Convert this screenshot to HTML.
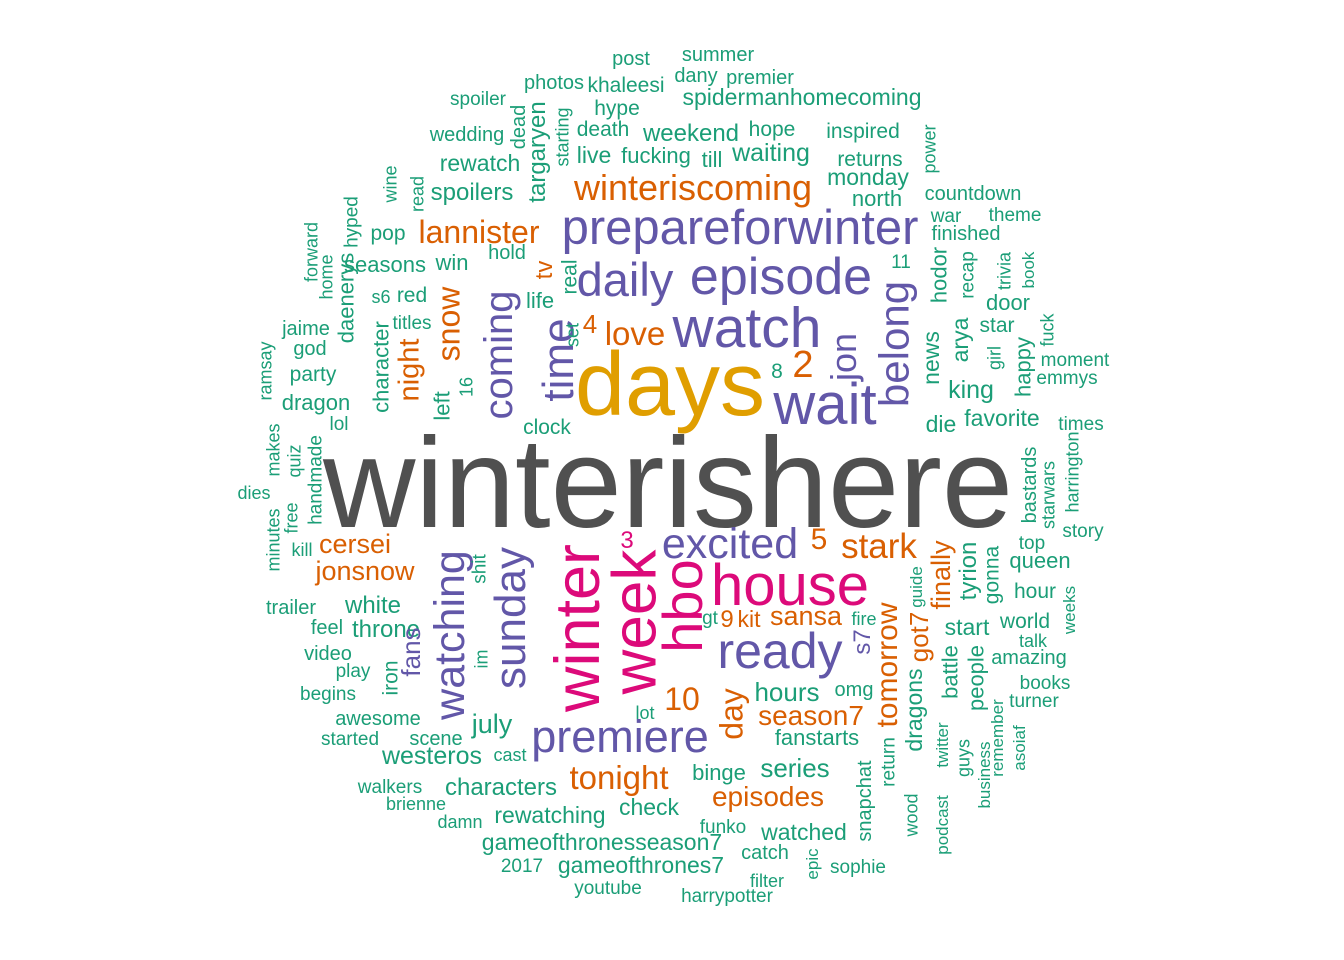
<!DOCTYPE html>
<html><head><meta charset="utf-8"><style>
html,body{margin:0;padding:0;background:#fff;}
svg{display:block;}
text{font-family:"Liberation Sans",Arial,sans-serif;}
</style></head><body>
<svg id="cloud" width="1344" height="960" viewBox="0 0 1344 960" xmlns="http://www.w3.org/2000/svg">
<rect width="1344" height="960" fill="#fff"/>
</svg>
<script>
const palette = {g:'#1b9e77', o:'#d95f02', p:'#6257a8', k:'#dc0a7a', y:'#e09e00', d:'#505050'};
// [word, fontSize, colorKey, centerX, baselineY (horizontal) or centerY (vertical), vertical]
const words = [
["post",20,"g",631,65,0],["summer",20,"g",718,61,0],["dany",20,"g",696,82,0],["premier",20,"g",760,84,0],
["photos",20,"g",554,89,0],["khaleesi",21,"g",626,92,0],["spoiler",19,"g",478,105,0],["hype",21,"g",617,115,0],
["spidermanhomecoming",23,"g",802,105,0],["dead",20,"g",519,127,1],["targaryen",24,"g",538,152,1],["starting",18,"g",563,137,1],
["wedding",20,"g",467,141,0],["death",21,"g",603,136,0],["weekend",24,"g",691,141,0],["hope",21,"g",772,136,0],
["inspired",21,"g",863,138,0],["power",18,"g",930,149,1],["rewatch",23,"g",480,171,0],["live",23,"g",594,163,0],
["fucking",22,"g",656,163,0],["till",22,"g",712,167,0],["waiting",25,"g",771,161,0],["returns",21,"g",870,166,0],
["wine",18,"g",391,184,1],["read",18,"g",418,194,1],["spoilers",24,"g",472,200,0],["winteriscoming",36,"o",693,200,0],
["monday",23,"g",868,185,0],["north",22,"g",877,206,0],["countdown",20,"g",973,200,0],["hyped",19,"g",352,222,1],
["war",19,"g",946,222,0],["theme",19,"g",1015,221,0],["pop",21,"g",388,240,0],["lannister",32,"o",479,243,0],
["prepareforwinter",49,"p",740,244,0],["finished",20,"g",966,240,0],["forward",18,"g",312,252,1],["home",18,"g",327,277,1],
["seasons",22,"g",385,272,0],["win",22,"g",452,270,0],["hold",20,"g",507,259,0],["tv",24,"o",545,270,1],
["real",21,"g",570,277,1],["daily",47,"p",625,296,0],["episode",52,"p",781,294,0],["11",19,"g",901,268,0],
["hodor",22,"g",940,275,1],["recap",19,"g",968,275,1],["trivia",18,"g",1005,271,1],["book",17,"g",1029,270,1],
["daenerys",22,"g",347,298,1],["s6",18,"g",381,303,0],["red",21,"g",412,302,0],["snow",32,"o",450,324,1],
["coming",40,"p",500,355,1],["life",22,"g",540,308,0],["time",44,"p",560,360,1],["door",22,"g",1008,310,0],
["jaime",20,"g",306,335,0],["titles",19,"g",412,329,0],["set",18,"g",573,335,1],["4",26,"o",590,333,0],
["love",33,"o",635,345,0],["watch",57,"p",747,347,0],["star",21,"g",997,332,0],["fuck",18,"g",1048,330,1],
["ramsay",18,"g",266,371,1],["god",20,"g",310,355,0],["character",22,"g",382,367,1],["night",29,"o",410,370,1],
["jon",36,"p",845,357,1],["belong",42,"p",896,344,1],["news",23,"g",932,358,1],["arya",23,"g",961,340,1],
["girl",18,"g",995,358,1],["happy",22,"g",1024,367,1],["moment",19,"g",1075,366,0],["2",38,"o",803,377,0],
["party",21,"g",313,381,0],["16",18,"g",467,387,1],["days",90,"y",670,415,0],["8",21,"g",777,378,0],
["emmys",19,"g",1067,384,0],["king",25,"g",971,398,0],["dragon",22,"g",316,410,0],["wait",58,"p",825,424,0],
["left",22,"g",443,406,1],["lol",19,"g",339,430,0],["clock",21,"g",547,434,0],["die",23,"g",941,432,0],
["favorite",23,"g",1002,426,0],["times",19,"g",1081,430,0],["makes",18,"g",274,450,1],["handmade",19,"g",316,480,1],
["quiz",18,"g",295,461,1],["winterishere",128,"d",668,527,0],["dies",18,"g",254,499,0],["bastards",20,"g",1030,485,1],
["harrington",18,"g",1073,472,1],["starwars",18,"g",1049,495,1],["minutes",18,"g",274,540,1],["free",18,"g",292,518,1],
["kill",18,"g",302,556,0],["story",19,"g",1083,537,0],["top",19,"g",1032,549,0],["3",24,"k",627,548,0],
["5",30,"o",819,549,0],["cersei",27,"o",355,553,0],["excited",43,"p",730,558,0],["stark",35,"o",879,558,0],
["finally",27,"o",942,575,1],["tyrion",24,"g",969,571,1],["gonna",21,"g",992,575,1],["queen",22,"g",1040,568,0],
["jonsnow",27,"o",365,580,0],["watching",43,"p",451,635,1],["sunday",44,"p",512,618,1],["shit",19,"g",480,569,1],
["winter",63,"k",580,628,1],["week",62,"k",637,622,1],["hbo",56,"k",685,606,1],["house",58,"k",790,605,0],
["guide",17,"g",917,587,1],["hour",21,"g",1035,598,0],["trailer",20,"g",291,614,0],["white",24,"g",373,613,0],
["sansa",27,"o",806,625,0],["gt",19,"g",710,624,0],["9",24,"o",727,627,0],["kit",23,"o",749,627,0],
["tomorrow",30,"o",888,665,1],["got7",26,"o",920,637,1],["fire",18,"g",864,625,0],["start",23,"g",967,635,0],
["world",21,"g",1025,628,0],["feel",20,"g",327,634,0],["throne",24,"g",386,637,0],["fans",26,"p",412,652,1],
["s7",24,"p",863,642,1],["talk",18,"g",1033,647,0],["weeks",17,"g",1070,610,1],["video",20,"g",328,660,0],
["im",18,"g",482,659,1],["ready",50,"p",780,668,0],["battle",22,"g",951,672,1],["people",22,"g",977,678,1],
["amazing",20,"g",1029,664,0],["play",19,"g",353,677,0],["iron",21,"g",391,678,1],["books",19,"g",1045,689,0],
["dragons",23,"g",915,710,1],["begins",19,"g",328,700,0],["day",32,"o",733,714,1],["10",32,"o",682,710,0],
["hours",26,"g",787,701,0],["omg",20,"g",854,696,0],["turner",19,"g",1034,707,0],["return",19,"g",889,762,1],
["lot",18,"g",645,719,0],["awesome",20,"g",378,725,0],["july",27,"g",492,733,0],["season7",28,"o",811,725,0],
["started",19,"g",350,745,0],["scene",20,"g",436,745,0],["premiere",45,"p",620,752,0],["fanstarts",22,"g",817,745,0],
["remember",17,"g",998,738,1],["asoiaf",17,"g",1020,748,1],["guys",18,"g",964,758,1],["twitter",17,"g",943,745,1],
["podcast",17,"g",943,825,1],["business",17,"g",985,775,1],["cast",18,"g",510,761,0],["westeros",25,"g",432,764,0],
["snapchat",20,"g",865,801,1],["wood",18,"g",912,815,1],["tonight",33,"o",619,789,0],["binge",22,"g",719,780,0],
["series",26,"g",795,777,0],["walkers",19,"g",390,793,0],["characters",24,"g",501,795,0],["episodes",28,"o",768,806,0],
["brienne",18,"g",416,810,0],["check",23,"g",649,815,0],["rewatching",23,"g",550,823,0],["damn",18,"g",460,828,0],
["funko",19,"g",723,833,0],["watched",23,"g",804,840,0],["gameofthronesseason7",23,"g",602,850,0],["catch",20,"g",765,859,0],
["epic",17,"g",813,864,1],["sophie",19,"g",858,873,0],["2017",19,"g",522,872,0],["gameofthrones7",23,"g",641,873,0],
["filter",18,"g",767,887,0],["youtube",19,"g",608,894,0],["harrypotter",19,"g",727,902,0]
];
const svg = document.getElementById('cloud');
const NS = 'http://www.w3.org/2000/svg';
words.forEach(w => {
  const t = document.createElementNS(NS, 'text');
  
  
  t.setAttribute('font-size', w[1]);
  t.setAttribute('fill', palette[w[2]]);
  t.setAttribute('text-anchor', 'middle');
  if (w[5]) {
    const bx = w[3] + 0.3 * w[1];
    t.setAttribute('transform', 'translate(' + bx + ',' + w[4] + ') rotate(-90)');
  } else {
    t.setAttribute('x', w[3]);
    t.setAttribute('y', w[4]);
  }
  t.textContent = w[0];
  svg.appendChild(t);
});
</script>
</body></html>
